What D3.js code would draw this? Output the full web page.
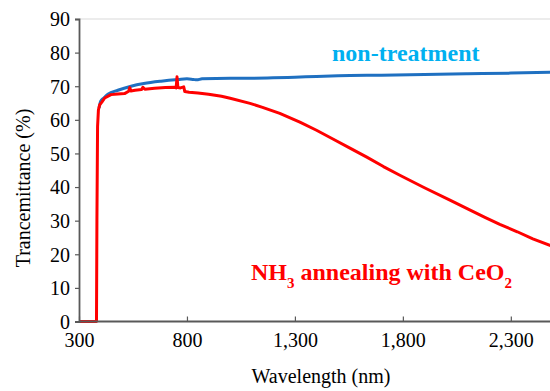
<!DOCTYPE html>
<html><head><meta charset="utf-8">
<script src="https://cdn.jsdelivr.net/npm/d3@7/dist/d3.min.js"></script></head>
<body style="margin:0">
<svg id="fig" width="550" height="391"></svg>
<script>
// values (wavelength nm, transmittance %)
const xTicks = [300, 800, 1300, 1800, 2300];
const yTicks = [0, 10, 20, 30, 40, 50, 60, 70, 80, 90];

const nonTreatment = [
  [393, 63.5], [400, 65.5], [415, 66.5], [434, 67.6], [480, 68.8], [541, 70],
  [600, 70.8], [680, 71.5], [760, 72], [800, 72.2], [830, 72.0], [845, 71.9],
  [870, 72.2], [1000, 72.4], [1100, 72.4], [1200, 72.5], [1300, 72.7], [1400, 72.9],
  [1500, 73.1], [1700, 73.3], [1900, 73.5], [2100, 73.7], [2300, 73.9], [2500, 74.2]
];

const nh3CeO2 = [
  [300, 0], [381, 0], [383, 30], [386, 58], [390, 63], [396, 64.5], [405, 65.2],
  [419, 66.5], [448, 67.5], [480, 67.7], [511, 67.8], [530, 68.5], [535, 69.6],
  [540, 68.6], [560, 68.8], [590, 69.0], [596, 69.7], [605, 69.1], [650, 69.4],
  [700, 69.6], [743, 69.7], [750, 69.5], [754, 72.8], [758, 69.6], [770, 69.5],
  [785, 69.8], [790, 68.4], [810, 68.2], [851, 68], [900, 67.6], [960, 67],
  [1000, 66.4], [1092, 64.9], [1150, 63.7], [1230, 61.9], [1323, 59.3],
  [1400, 56.9], [1476, 54.3], [1555, 51.6], [1633, 48.9], [1710, 46.1], [1786, 43.5],
  [1900, 39.8], [2018, 36.1], [2100, 33.5], [2180, 31.0], [2249, 28.9], [2330, 26.7],
  [2402, 24.6], [2500, 22.2]
];

const FONT = '"Liberation Serif"';
const svg = d3.select("#fig");
const m = {left: 79, top: 19, bottom: 321.5, right: 554};

const x = d3.scaleLinear().domain([300, 2500]).range([m.left, m.right]);
const y = d3.scaleLinear().domain([0, 90]).range([m.bottom, m.top]);
const fmt = d3.format(",");

// light frame on top
svg.append("line")
  .attr("x1", m.left).attr("x2", 550).attr("y1", m.top).attr("y2", m.top)
  .attr("stroke", "#d9d9d9").attr("stroke-width", 1);

const line = d3.line().x(d => x(d[0])).y(d => y(d[1]));

svg.append("path").datum(nonTreatment)
  .attr("d", line.curve(d3.curveMonotoneX))
  .attr("fill", "none").attr("stroke", "#1f70c1").attr("stroke-width", 3);

svg.append("path").datum(nh3CeO2)
  .attr("d", line.curve(d3.curveLinear))
  .attr("fill", "none").attr("stroke", "#ff0000").attr("stroke-width", 3)
  .attr("stroke-linejoin", "round");

// axes
const yAxis = svg.append("g").attr("transform", `translate(${m.left},0)`)
  .call(d3.axisLeft(y).tickValues(yTicks).tickSize(4).tickPadding(5));
const xAxis = svg.append("g").attr("transform", `translate(0,${m.bottom})`)
  .call(d3.axisBottom(x).tickValues(xTicks).tickFormat(fmt).tickSize(-5).tickPadding(11));

[yAxis, xAxis].forEach(g => {
  g.attr("font-family", "Liberation Serif");
  g.select(".domain").attr("stroke", "#595959").attr("stroke-width", 1.8);
  g.selectAll(".tick line").attr("stroke", "#595959").attr("stroke-width", 1.2);
  g.selectAll(".tick text").attr("font-size", 20).attr("fill", "#000");
});
xAxis.select(".domain").attr("d", `M${m.left},0H550`);
yAxis.selectAll(".tick text").attr("dy", "0.34em");

// axis titles
svg.append("text")
  .attr("x", 321).attr("y", 383)
  .attr("text-anchor", "middle").attr("font-size", 20)
  .text("Wavelength (nm)");

svg.append("text")
  .attr("transform", "translate(30,188) rotate(-90)")
  .attr("text-anchor", "middle").attr("font-size", 20)
  .text("Trancemittance (%)");

// series labels
svg.append("text")
  .attr("x", 332).attr("y", 61)
  .attr("font-size", 24).attr("font-weight", "bold").attr("fill", "#00b0f0")
  .text("non-treatment");

const lab = svg.append("text")
  .attr("x", 251).attr("y", 280)
  .attr("font-size", 24).attr("font-weight", "bold").attr("fill", "#ff0000");
lab.append("tspan").text("NH");
lab.append("tspan").attr("font-size", 15).attr("dy", 8).text("3");
lab.append("tspan").attr("dy", -8).text(" annealing with CeO");
lab.append("tspan").attr("font-size", 15).attr("dy", 8).text("2");

svg.selectAll("text")
  .attr("font-family", "Liberation Serif")
  .style("font-family", FONT);
</script>
</body></html>
